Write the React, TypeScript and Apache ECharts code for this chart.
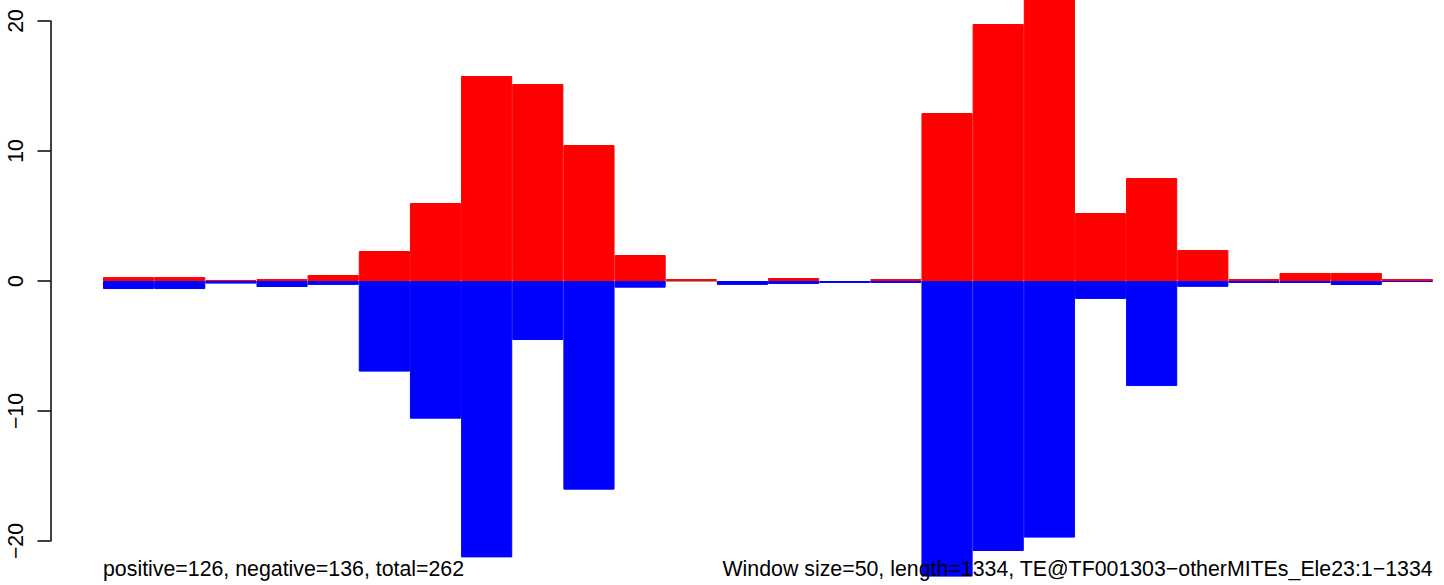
import React, { useEffect, useRef } from "react";
import * as echarts from "echarts";

// Window start positions (window size 50, length 1334)
const windowStarts = [
  "1", "51", "101", "151", "201", "251", "301", "351", "401", "451", "501", "551", "601",
  "651", "701", "751", "801", "851", "901", "951", "1001", "1051", "1101", "1151", "1201", "1251",
];

// Positive-strand values (red)
const positiveValues = [
  0.3, 0.3, 0.08, 0.15, 0.46, 2.31, 6.0, 15.77, 15.15, 10.46, 2.0, 0.15, 0,
  0.23, 0, 0.15, 12.92, 19.77, 22.7, 5.23, 7.92, 2.38, 0.15, 0.62, 0.62, 0.15,
];

// Negative-strand values (blue)
const negativeValues = [
  -0.62, -0.62, -0.2, -0.46, -0.3, -6.97, -10.59, -21.26, -4.54, -16.05, -0.51, 0, -0.3,
  -0.23, -0.15, -0.15, -22.74, -20.77, -19.74, -1.38, -8.08, -0.45, -0.15, -0.15, -0.31, -0.08,
];

const yTicks = { min: -20, max: 20, interval: 10 };

const leftNote = "positive=126, negative=136, total=262";
const rightNote = "Window size=50, length=1334, TE@TF001303\u2212otherMITEs_Ele23:1\u22121334";

const FONT = "'Liberation Sans', Arial, Helvetica, sans-serif";

// zero-height bars get no outline so they stay invisible
const toBarData = (vals: number[]) =>
  vals.map((v) => (v === 0 ? { value: v, itemStyle: { borderWidth: 0 } } : v));

export default function App() {
  const ref = useRef<HTMLDivElement>(null);

  useEffect(() => {
    document.body.style.margin = "0";
    const chart = echarts.init(ref.current!, null, { renderer: "svg" });
    chart.setOption({
      animation: false,
      backgroundColor: "#ffffff",
      grid: { left: 103, right: 11, top: 21, bottom: 44, containLabel: false },
      xAxis: {
        type: "category",
        data: windowStarts,
        show: false,
        boundaryGap: true,
      },
      yAxis: {
        type: "value",
        min: yTicks.min,
        max: yTicks.max,
        interval: yTicks.interval,
        offset: 52.5,
        splitLine: { show: false },
        axisLine: { show: true, lineStyle: { color: "#000", width: 1.5 } },
        axisTick: { show: true, length: 13, inside: false, lineStyle: { color: "#000", width: 1.5 } },
        axisLabel: {
          rotate: 90,
          margin: 24,
          fontSize: 21.3,
          fontFamily: FONT,
          color: "#000",
          formatter: (v: number) => String(v).replace("-", "\u2212"),
        },
      },
      series: [
        {
          type: "line",
          data: [],
          silent: true,
          z: 1,
          markLine: {
            z: 1,
            silent: true,
            symbol: "none",
            label: { show: false },
            lineStyle: { color: "#a0a0a0", width: 1, type: "solid" },
            data: [{ yAxis: 0 }],
          },
        },
        {
          type: "bar",
          name: "positive",
          data: toBarData(positiveValues),
          barWidth: "100%",
          barGap: "-100%",
          barCategoryGap: "0%",
          clip: false,
          z: 2,
          itemStyle: { color: "#ff0000", borderColor: "#ff0000", borderWidth: 1 },
        },
        {
          type: "bar",
          name: "negative",
          data: toBarData(negativeValues),
          barWidth: "100%",
          barGap: "-100%",
          barCategoryGap: "0%",
          clip: false,
          z: 3,
          itemStyle: { color: "#0000ff", borderColor: "#0000ff", borderWidth: 1 },
        },
      ],
      graphic: [
        {
          type: "text",
          left: 103,
          top: 558,
          z: 100,
          style: { text: leftNote, fontSize: 21.33, fontFamily: FONT, fill: "#000" },
        },
        {
          type: "text",
          right: 11,
          top: 558,
          z: 100,
          style: { text: rightNote, fontSize: 21.33, fontFamily: FONT, fill: "#000" },
        },
      ],
    });
    return () => chart.dispose();
  }, []);

  return (
    <div
      ref={ref}
      style={{ position: "absolute", left: 0, top: 0, width: 1444, height: 585, background: "#fff" }}
    />
  );
}
